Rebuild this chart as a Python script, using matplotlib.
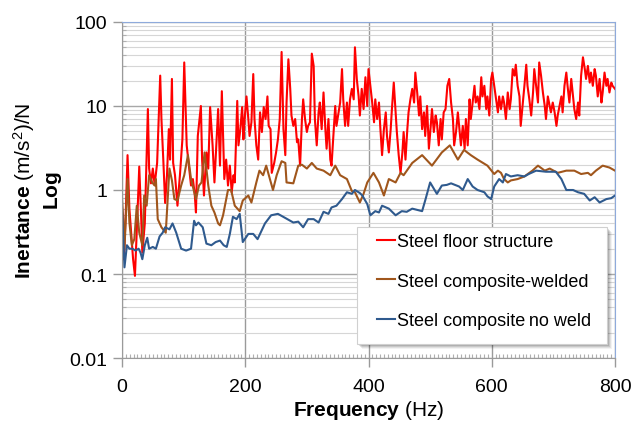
import numpy as np
import matplotlib
matplotlib.use('Agg')
import matplotlib.pyplot as plt
from matplotlib.ticker import MultipleLocator, LogLocator, FuncFormatter, NullFormatter
from matplotlib.patches import Rectangle
import matplotlib.transforms as mtransforms

plt.rcParams['font.family'] = 'Liberation Sans'
plt.rcParams['mathtext.fontset'] = 'custom'
plt.rcParams['mathtext.rm'] = 'Liberation Sans'
plt.rcParams['mathtext.bf'] = 'Liberation Sans:bold'
plt.rcParams['mathtext.it'] = 'Liberation Sans:italic'

# ---- data (frequency in Hz, inertance in (m/s2)/N) ----
labels = ['Steel floor structure', 'Steel composite-welded', 'Steel composite\u2009no weld']
colors = ['#ff0000', '#a0561c', '#2f5a8e']

red_f = [0, 3, 6, 9, 12, 15, 18, 21, 25, 28, 31, 33, 37, 42, 44, 47, 50, 53, 57, 62,
         64, 67, 70, 73, 76, 78, 81, 83, 86, 90, 94, 98, 101, 105, 109, 112, 115, 118, 120, 123,
         128, 130, 133, 137, 140, 143, 147, 150, 153, 156, 159, 162, 166, 169, 172, 175, 178, 181, 183, 187,
         189, 192, 195, 197, 199, 202, 205, 207, 210, 213, 215, 218, 221, 224, 227, 230, 233, 236, 238, 241,
         243, 247, 250, 253, 256, 259, 262, 265, 267, 270, 273, 275, 278, 281, 284, 286, 289, 292, 294, 297,
         300, 302, 305, 308, 311, 313, 316, 319, 321, 324, 327, 330, 332, 335, 338, 340, 343, 346, 348, 351,
         354, 357, 359, 362, 365, 367, 370, 373, 376, 378, 381, 384, 386, 389, 392, 395, 398, 400, 403, 406,
         409, 411, 414, 417, 419, 422, 425, 428, 430, 433, 436, 438, 441, 444, 446, 449, 452, 455, 457, 460,
         463, 465, 468, 471, 474, 476, 479, 482, 484, 487, 490, 492, 495, 498, 501, 503, 506, 509, 511, 514,
         517, 519, 522, 525, 528, 531, 534, 537, 539, 542, 545, 547, 550, 553, 556, 558, 561, 564, 566, 569,
         572, 574, 577, 580, 583, 585, 588, 591, 593, 596, 599, 601, 604, 607, 610, 612, 615, 618, 620, 623,
         626, 629, 631, 634, 637, 639, 642, 645, 647, 650, 653, 656, 658, 661, 664, 667, 669, 672, 675, 677,
         680, 683, 686, 688, 691, 694, 696, 699, 702, 705, 707, 710, 713, 715, 718, 721, 723, 726, 729, 732,
         734, 737, 740, 742, 745, 748, 751, 753, 756, 759, 761, 764, 767, 769, 772, 775, 778, 780, 783, 786,
         788, 791, 794, 796, 800]
red_v = [0.22, 0.15, 0.5, 2.6, 0.6, 0.3, 0.15, 0.095, 0.5, 1.9, 0.5, 0.18, 0.4, 9.2, 1.8, 1.2, 1.8, 1.15, 2.1, 23,
         7.0, 2.3, 0.7, 1.5, 5.3, 2.3, 21, 2.1, 1.5, 0.65, 1.5, 4.0, 33, 3.4, 1.8, 1.13, 1.35, 0.9, 0.54, 4.4,
         10, 2.3, 0.86, 2.8, 1.8, 9.7, 3.4, 1.23, 3.4, 9.2, 1.95, 15, 1.35, 2.3, 1.13, 1.95, 0.94, 1.5, 1.23, 11.5,
         3.4, 5.3, 9.7, 4.0, 7.0, 13, 7.0, 4.4, 6.4, 24, 7.0, 3.4, 2.3, 8.4, 4.9, 9.7, 7.0, 13, 5.8, 5.3,
         1.6, 2.1, 2.8, 4.0, 7.0, 44, 5.3, 2.6, 11, 36, 16, 7.7, 5.8, 7.0, 3.7, 4.0, 1.95, 7.0, 12, 7.0,
         4.9, 5.8, 6.4, 42, 30, 7.0, 3.4, 8.4, 11, 5.3, 14.5, 5.3, 3.1, 7.0, 2.3, 1.95, 4.4, 10, 5.8, 8.0,
         11, 27.5, 12, 5.8, 11, 5.8, 12, 16, 12, 50, 21, 13, 7.7, 16, 9.2, 22, 10, 27.5, 17.4, 11,
         6.4, 12, 7.0, 11, 5.8, 2.6, 5.3, 8.4, 4.4, 2.8, 5.3, 9.2, 19, 8.4, 4.9, 2.6, 1.6, 2.8, 4.9, 2.3,
         5.3, 8.4, 12, 16, 11, 25, 14.5, 7.7, 13, 5.3, 8.4, 4.4, 10, 3.1, 5.8, 9.2, 4.9, 7.7, 6.4, 3.4,
         7.0, 4.0, 8.4, 9.2, 17.4, 21, 11, 7.0, 3.4, 4.9, 8.4, 5.8, 3.4, 5.8, 3.1, 7.0, 3.4, 12, 7.0, 11,
         17.4, 11, 13, 9.2, 22, 13, 17.4, 9.2, 13, 7.7, 21, 25, 17.4, 12, 8.4, 13, 9.2, 13, 11, 7.0,
         14.5, 9.2, 12, 27.5, 23, 31, 17.4, 13, 5.8, 10, 17.4, 31, 17.4, 12, 7.7, 14.5, 27.5, 17.4, 11, 33,
         23, 14.5, 10, 7.0, 13, 10, 8.4, 11, 8.4, 5.8, 7.7, 10, 13, 8.4, 17.4, 25, 17.4, 11, 21, 13,
         9.2, 7.0, 11, 7.7, 23, 38, 27.5, 21, 30, 19, 25, 17.4, 27.5, 23, 13, 21, 11, 14.5, 25, 17.4,
         21, 14.5, 19, 17.4, 16]

brown_f = [0, 2, 4, 9, 12, 16, 20, 24, 28, 33, 36, 40, 44, 49, 53, 55, 58, 64, 71, 77,
           81, 85, 90, 96, 101, 107, 112, 120, 125, 129, 134, 140, 145, 150, 156, 159, 164, 172, 177, 183,
           191, 196, 205, 210, 218, 223, 229, 234, 240, 245, 251, 259, 265, 267, 278, 286, 292, 300, 308, 316,
           327, 338, 346, 354, 365, 373, 378, 386, 392, 398, 408, 417, 425, 433, 444, 452, 457, 471, 487, 503,
           519, 532, 545, 555, 566, 577, 593, 604, 610, 615, 620, 626, 631, 642, 653, 666, 675, 686, 694, 707,
           721, 734, 745, 756, 761, 769, 780, 791, 800]
brown_v = [0.78, 0.45, 0.2, 1.35, 0.41, 0.22, 0.26, 0.65, 0.31, 0.22, 0.86, 0.65, 1.5, 1.23, 1.13, 1.35, 0.45, 0.36, 0.31, 1.8,
           1.3, 0.78, 0.75, 1.13, 1.5, 2.6, 1.35, 0.78, 1.13, 1.23, 2.8, 1.13, 0.65, 0.54, 0.4, 0.38, 0.5, 1.0, 1.0, 0.65,
           0.56, 0.75, 0.86, 0.71, 1.23, 1.7, 1.5, 1.95, 1.35, 1.0, 1.5, 2.2, 2.1, 1.23, 1.2, 1.95, 2.0, 1.8, 2.1, 1.8,
           1.7, 1.5, 1.95, 1.5, 1.35, 0.97, 0.94, 0.71, 0.9, 1.23, 1.6, 1.23, 0.86, 1.35, 1.23, 1.6, 1.5, 2.1, 2.6, 1.95,
           2.8, 3.4, 2.3, 3.0, 2.6, 2.3, 1.95, 1.55, 1.7, 1.6, 1.35, 1.23, 1.3, 1.35, 1.45, 1.7, 1.95, 1.7, 1.8, 1.6,
           1.7, 1.7, 1.55, 1.6, 1.5, 1.7, 1.95, 1.85, 1.7]

blue_f = [0, 4, 8, 12, 17, 22, 27, 30, 33, 37, 41, 44, 50, 55, 61, 66, 70, 77, 82, 88,
          96, 104, 112, 117, 120, 124, 131, 137, 145, 152, 159, 165, 170, 175, 180, 186, 191, 196, 205, 213,
          220, 232, 242, 253, 266, 278, 286, 294, 302, 311, 319, 327, 335, 340, 348, 357, 365, 373, 378, 386,
          390, 398, 403, 411, 417, 422, 433, 444, 454, 462, 471, 487, 492, 500, 511, 519, 527, 534, 547, 553,
          561, 569, 577, 588, 593, 599, 604, 612, 618, 623, 631, 642, 653, 660, 672, 688, 704, 713, 721, 732,
          740, 750, 759, 767, 775, 786, 794, 800]
blue_v = [0.6, 0.12, 0.22, 0.2, 0.2, 0.19, 0.2, 0.18, 0.15, 0.22, 0.27, 0.2, 0.21, 0.2, 0.28, 0.31, 0.36, 0.34, 0.4, 0.31,
          0.2, 0.19, 0.2, 0.43, 0.38, 0.41, 0.36, 0.23, 0.22, 0.24, 0.25, 0.22, 0.21, 0.3, 0.48, 0.45, 0.52, 0.24, 0.3, 0.3,
          0.26, 0.4, 0.5, 0.52, 0.46, 0.41, 0.42, 0.36, 0.45, 0.45, 0.41, 0.55, 0.52, 0.62, 0.65, 0.78, 0.94, 0.9, 1.0, 0.92,
          0.86, 0.68, 0.5, 0.56, 0.54, 0.65, 0.6, 0.5, 0.56, 0.55, 0.6, 0.56, 0.75, 1.23, 0.9, 1.13, 1.15, 1.2, 1.1, 1.0,
          1.35, 1.1, 1.0, 0.94, 0.84, 0.78, 1.1, 1.35, 1.23, 1.55, 1.45, 1.5, 1.45, 1.55, 1.7, 1.65, 1.65, 1.35, 1.0, 1.0,
          0.94, 0.9, 0.75, 0.82, 0.71, 0.78, 0.8, 0.86]

fig = plt.figure(figsize=(6.38, 4.27), dpi=100)
ax = fig.add_axes([122 / 638, 1 - 359 / 427, 493 / 638, 336 / 427])

for f, v, c, lab in zip([red_f, brown_f, blue_f], [red_v, brown_v, blue_v], colors, labels):
    ax.plot(f, v, color=c, lw=1.5, label=lab, solid_joinstyle='round')

ax.set_yscale('log')
ax.set_ylim(0.01, 100)
ax.set_xlim(0, 800)
ax.set_xticks([0, 200, 400, 600, 800])
ax.yaxis.set_major_formatter(FuncFormatter(lambda v, p: f'{v:g}'))
ax.yaxis.set_minor_locator(LogLocator(base=10, subs=np.arange(2, 10)))
ax.yaxis.set_minor_formatter(NullFormatter())
ax.xaxis.set_minor_locator(MultipleLocator(6.25))

ax.set_axisbelow(True)
ax.grid(which='major', axis='x', color='#9a9a9a', lw=1.0)
ax.grid(which='major', axis='y', color='#a8a8a8', lw=1.0)
ax.grid(which='minor', axis='y', color='#d6d6d6', lw=0.8)

for s in ['left', 'bottom']:
    ax.spines[s].set_color('#9a9a9a')
for s in ['top', 'right']:
    ax.spines[s].set_color('#8eaadb')

ax.tick_params(which='major', direction='out', length=6.5, width=1, color='#9a9a9a', labelsize=14)
ax.tick_params(axis='y', which='major', pad=4)
ax.tick_params(axis='x', which='major', pad=8)
ax.tick_params(which='minor', direction='in', length=3, width=0.8, color='#b0b0b0')

ax.set_xlabel(r'$\mathbf{Frequency}$ (Hz)', fontsize=15, labelpad=2)
ax.set_ylabel(r'$\mathbf{Inertance}$ (m/s$^{2}$)/N' + '\n' + r'$\mathbf{Log}$',
              fontsize=15, linespacing=1.3, labelpad=4)

# legend box with soft shadow
box = (0.477, 0.042, 0.507, 0.348)
for k, a in zip([5, 4, 3, 2], [0.05, 0.08, 0.10, 0.12]):
    tr = mtransforms.offset_copy(ax.transAxes, fig, x=k, y=-k, units='dots')
    ax.add_patch(Rectangle(box[:2], box[2], box[3], transform=tr, facecolor='#000000',
                           alpha=a, edgecolor='none', zorder=5, clip_on=False))
ax.add_patch(Rectangle(box[:2], box[2], box[3], transform=ax.transAxes, facecolor='white',
                       edgecolor='#d0d0d0', lw=0.8, zorder=6, clip_on=False))

leg = ax.legend(loc='upper left', bbox_to_anchor=(0.517, 0.372), frameon=False, fontsize=13,
                handlelength=1.0, handletextpad=0.1, labelspacing=1.25, borderpad=0, borderaxespad=0)
leg.set_zorder(7)

fig.savefig('out.png', dpi=100)
